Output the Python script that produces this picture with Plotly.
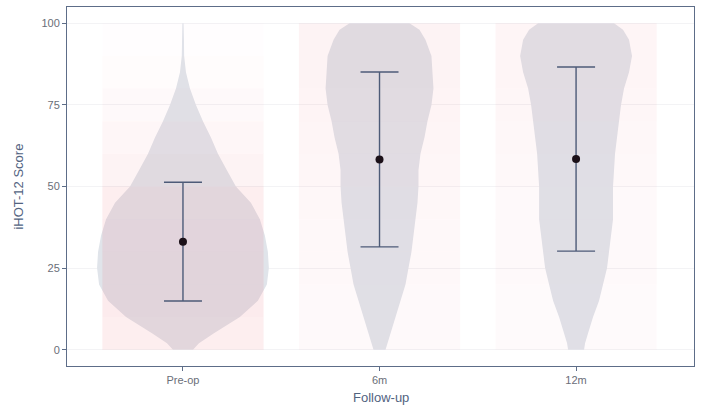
import plotly.graph_objects as go

# ---------------- data ----------------
categories = ["Pre-op", "6m", "12m"]

# mean and SD of iHOT-12 score per follow-up time (error bars = mean +/- SD)
mean_score = [33.1, 58.3, 58.4]
sd_score = [18.2, 26.8, 28.2]

# violin density profile (relative density, read at these score levels)
violin_levels = [0, 2, 5, 10, 15, 20, 25, 30, 35, 40, 45, 50, 55, 60, 65,
                 70, 75, 80, 85, 90, 95, 98, 100]
density_preop = [10, 16, 31, 57, 75, 84, 86, 85, 82, 77, 68, 53, 44, 35, 28,
                 20, 13, 7, 3, 1.2, 1, 0.8, 0.6]
density_6m = [6, 8, 11, 16, 21, 26, 29, 32, 34, 36, 38, 39, 39, 41, 45,
              48, 52, 54, 53, 52, 46, 40, 30]
density_12m = [8, 9, 12, 17, 23, 27, 31, 33, 35, 37, 37, 37, 38, 39, 41,
               43, 45, 48, 53, 56, 53, 47, 38]

# relative concentration of the individual (jittered) scores per 10-point bin
score_bins = [0, 10, 20, 30, 40, 50, 60, 70, 80, 90, 100]
points_preop = [0.85, 1.0, 1.0, 0.95, 0.85, 0.6, 0.45, 0.3, 0.15, 0.08]
points_6m = [0.3, 0.3, 0.35, 0.35, 0.4, 0.45, 0.5, 0.55, 0.6, 0.6]
points_12m = [0.25, 0.25, 0.28, 0.3, 0.3, 0.35, 0.4, 0.45, 0.5, 0.5]

y_ticks = [0, 25, 50, 75, 100]
y_title = "iHOT-12 Score"
x_title = "Follow-up"

# ---------------- styles ----------------
VIOLIN_SCALE = 0.437 / 86.0      # category units per density unit
JITTER_HALF = 0.41
CLOUD_ALPHA = 0.15
VIOLIN_FILL = "#e0e4ea"
FRAME = "#5d6d88"
ERR_COLOR = "#4d5b78"
DOT_COLOR = "#1b1018"
TICK_FONT_COLOR = "#6a6e78"
TITLE_COLOR = "#52637f"
FONT = "Liberation Sans, Arial, sans-serif"

densities = [density_preop, density_6m, density_12m]
clouds = [points_preop, points_6m, points_12m]

fig = go.Figure()

# violins (drawn from the density profiles)
for i, dens in enumerate(densities):
    right = [i + d * VIOLIN_SCALE for d in dens]
    left = [i - d * VIOLIN_SCALE for d in dens]
    xs = right + left[::-1]
    ys = violin_levels + violin_levels[::-1]
    fig.add_trace(go.Scatter(
        x=xs, y=ys, fill="toself", fillcolor=VIOLIN_FILL, mode="lines",
        line=dict(width=0, color=VIOLIN_FILL), hoverinfo="skip", showlegend=False))

# clouds of individual scores (shaded by their concentration per bin)
for i, cl in enumerate(clouds):
    for b, dens in enumerate(cl):
        y0, y1 = score_bins[b], score_bins[b + 1]
        fig.add_trace(go.Scatter(
            x=[i - JITTER_HALF, i + JITTER_HALF, i + JITTER_HALF, i - JITTER_HALF, i - JITTER_HALF],
            y=[y0, y0, y1, y1, y0],
            fill="toself", fillcolor=f"rgba(238,120,132,{CLOUD_ALPHA * dens:.3f})",
            mode="lines", line=dict(width=0), hoverinfo="skip", showlegend=False))

# mean +/- SD
fig.add_trace(go.Scatter(
    x=list(range(len(categories))), y=mean_score, mode="markers",
    marker=dict(size=8, color=DOT_COLOR),
    error_y=dict(type="data", array=sd_score, visible=True, color=ERR_COLOR,
                 thickness=1.4, width=19),
    showlegend=False))

fig.update_layout(
    width=702, height=408,
    margin=dict(l=67, r=8, t=7, b=42, autoexpand=False),
    paper_bgcolor="white", plot_bgcolor="white",
    font=dict(family=FONT, size=11, color=TICK_FONT_COLOR),
    showlegend=False,
    annotations=[
        dict(text=x_title, x=0.5, xref="paper", y=-0.088, yref="paper",
             xanchor="center", yanchor="middle", showarrow=False,
             font=dict(size=13, color=TITLE_COLOR)),
        dict(text=y_title, x=-0.078, xref="paper", y=0.5, yref="paper",
             xanchor="center", yanchor="middle", showarrow=False, textangle=-90,
             font=dict(size=13, color=TITLE_COLOR)),
    ],
)
fig.update_xaxes(
    range=[-0.59, 2.6], tickmode="array", tickvals=list(range(len(categories))),
    ticktext=categories, showgrid=False, zeroline=False, automargin=False,
    showline=True, mirror=True, linecolor=FRAME, linewidth=1,
    ticks="outside", ticklen=4, tickcolor=FRAME,
    tickfont=dict(size=11, color=TICK_FONT_COLOR),
)
fig.update_yaxes(
    range=[-5, 105], tickmode="array", tickvals=y_ticks, automargin=False,
    showgrid=True, gridcolor="#f3f3f5", gridwidth=1, zeroline=False,
    showline=True, mirror=True, linecolor=FRAME, linewidth=1,
    ticks="outside", ticklen=4, tickcolor=FRAME,
    tickfont=dict(size=11, color=TICK_FONT_COLOR),
)

fig.write_html("out.html", config={"displayModeBar": False},
               post_script="document.body.style.margin='0';document.body.style.overflow='hidden';")
